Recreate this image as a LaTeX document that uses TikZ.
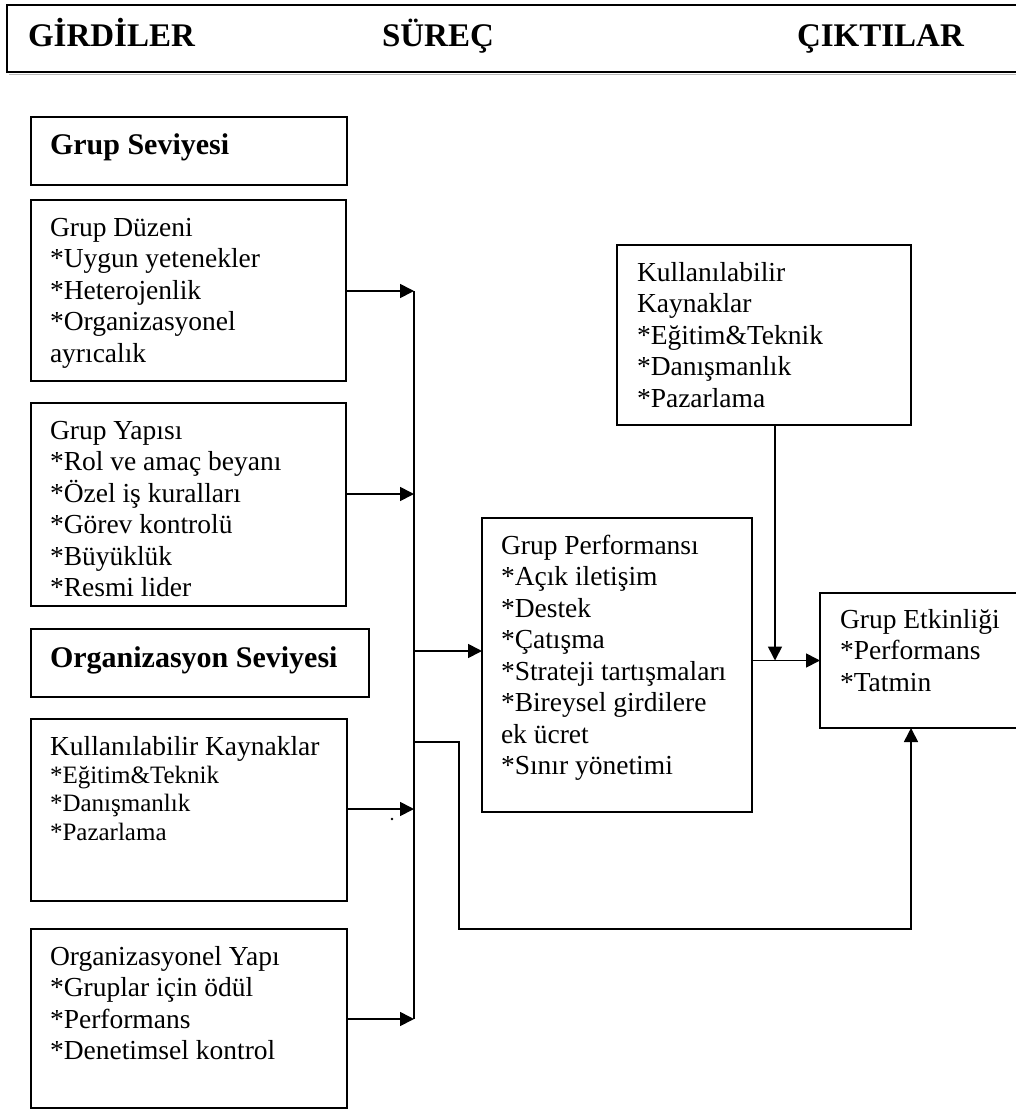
\documentclass[tikz,border=0pt]{standalone}
\usepackage{fontspec}
\setmainfont{Liberation Serif}
\usetikzlibrary{arrows.meta}

% type sizes
\newcommand\fsreg{\fontsize{27.5}{31.5}\selectfont}
\newcommand\fssmall{\fontsize{25}{28.5}\selectfont}
\newcommand\fshead{\fontsize{30}{36}\selectfont\bfseries}
\newcommand\fstitle{\fontsize{33}{40}\selectfont\bfseries}
% struts fixing the distance from the top of a text block to its first baseline
\newcommand\tstrut{\rule{0pt}{26pt}}
\newcommand\sstrut{\rule{0pt}{24pt}}

\begin{document}
\begin{tikzpicture}[x=1pt,y=-1pt,line width=1.7pt,
  box/.style={draw,line width=1.7pt,inner sep=0pt,outer sep=0pt,anchor=north west},
  txt/.style={inner sep=0pt,outer sep=0pt,anchor=north west,align=left,font=\fsreg},
  headtxt/.style={inner sep=0pt,outer sep=0pt,anchor=base west,font=\fshead},
  titletxt/.style={inner sep=0pt,outer sep=0pt,anchor=base west,font=\fstitle},
  arr/.style={-{Triangle[length=14pt,width=14pt]}}]

\useasboundingbox (0,0) rectangle (1016,1110);
\fill[white] (0,0) rectangle (1016,1110);

% title band
\draw[gray!55,line width=1.2pt] (9,74.5) -- (1030,74.5);
\node[box,minimum width=1030pt,minimum height=67pt] (hdr) at (7,5) {};
\node[titletxt] (h1) at (28,47) {GİRDİLER};
\node[titletxt] (h2) at (382,47) {SÜREÇ};
\node[titletxt] (h3) at (797,47) {ÇIKTILAR};

% group level
\node[box,minimum width=316pt,minimum height=68pt] (gs) at (31,117) {};
\node[headtxt] (gs-t) at (50,155) {Grup Seviyesi};

\node[box,minimum width=315pt,minimum height=181pt] (gd) at (31,200) {};
\node[txt] (gd-t) at (50,210) {\tstrut Grup Düzeni\\*Uygun yetenekler\\*Heterojenlik\\*Organizasyonel\\ayrıcalık};

\node[box,minimum width=315pt,minimum height=203pt] (gy) at (31,403) {};
\node[txt] (gy-t) at (50,413) {\tstrut Grup Yapısı\\*Rol ve amaç beyanı\\*Özel iş kuralları\\*Görev kontrolü\\*Büyüklük\\*Resmi lider};

% organisation level
\node[box,minimum width=338pt,minimum height=68pt] (os) at (31,629) {};
\node[headtxt] (os-t) at (50,667) {Organizasyon Seviyesi};

\node[box,minimum width=316pt,minimum height=182pt] (kk) at (31,719) {};
\node[inner sep=0pt,outer sep=0pt,anchor=base west,font=\fsreg] (kk-t) at (50,755) {Kullanılabilir Kaynaklar};
\node[txt,font=\fssmall] (kk-i) at (50,759) {\sstrut *Eğitim\&Teknik\\*Danışmanlık\\*Pazarlama};

\node[box,minimum width=316pt,minimum height=179pt] (oy) at (31,929) {};
\node[txt] (oy-t) at (50,939) {\tstrut Organizasyonel Yapı\\*Gruplar için ödül\\*Performans\\*Denetimsel kontrol};

% process and outputs
\node[box,minimum width=270pt,minimum height=294pt] (gp) at (482,518) {};
\node[txt] (gp-t) at (501,528) {\tstrut Grup Performansı\\*Açık iletişim\\*Destek\\*Çatışma\\*Strateji tartışmaları\\*Bireysel girdilere\\ek ücret\\*Sınır yönetimi};

\node[box,minimum width=294pt,minimum height=180pt] (kr) at (617,245) {};
\node[txt] (kr-t) at (637,255) {\tstrut Kullanılabilir\\Kaynaklar\\*Eğitim\&Teknik\\*Danışmanlık\\*Pazarlama};

\node[box,minimum width=215pt,minimum height=135pt] (ge) at (820,593) {};
\node[txt] (ge-t) at (840,602) {\tstrut Grup Etkinliği\\*Performans\\*Tatmin};

% collecting line and its joints
\coordinate (b1) at (414,291);
\coordinate (b2) at (414,494);
\coordinate (b5) at (414,651);
\coordinate (b6) at (414,742);
\coordinate (b3) at (414,809);
\coordinate (b4) at (414,1019);
\coordinate (c1) at (459,742);
\coordinate (c2) at (459,929);
\coordinate (c3) at (911,929);
\coordinate (kx) at (775,0);

\draw (b1) -- (b4);
\draw[arr] (b1 -| gd.east) -- (b1);
\draw[arr] (b2 -| gy.east) -- (b2);
\draw[arr] (b3 -| kk.east) -- (b3);
\draw[arr] (b4 -| oy.east) -- (b4);
\draw[arr] (b5) -- (b5 -| gp.west);
\draw[arr] (b6) -- (c1) -- (c2) -- (c3) -- (c3 |- ge.south);
\draw[arr] (gp.east |- ge.west) -- (ge.west);
\draw[arr] (kx |- kr.south) -- (kx |- ge.west);

\fill (392,819) circle (1.3pt);
\end{tikzpicture}
\end{document}
